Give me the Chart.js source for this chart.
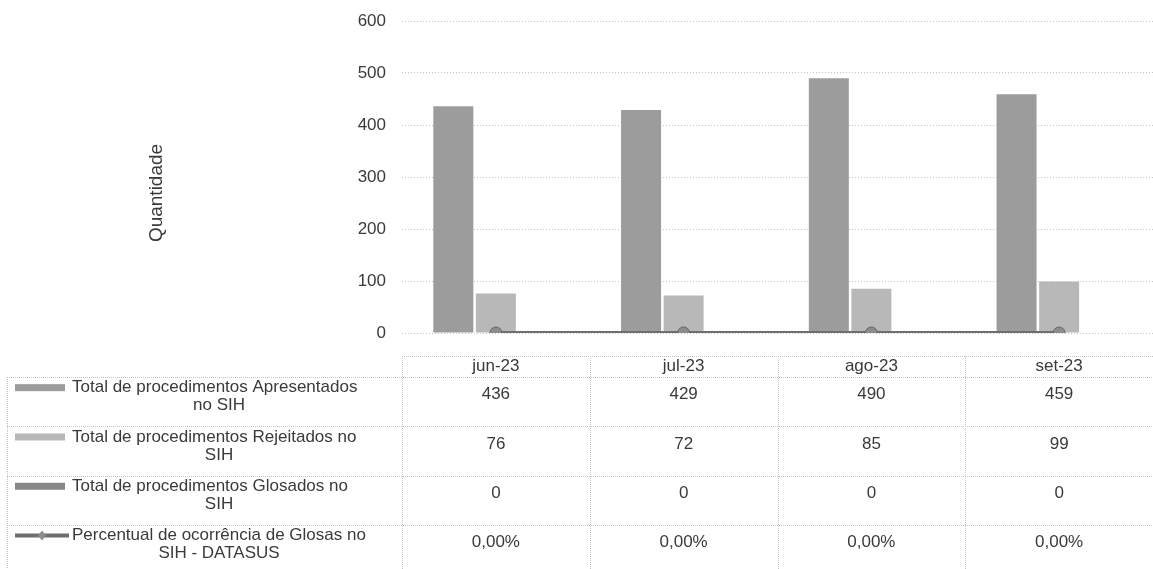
<!DOCTYPE html>
<html>
<head>
<meta charset="utf-8">
<script src="https://cdn.jsdelivr.net/npm/chart.js@4.4.0/dist/chart.umd.min.js"></script>
<style>
  html, body { margin: 0; padding: 0; background: #fff; }
  #wrap { width: 1153px; height: 569px; }
</style>
</head>
<body>
<div id="wrap"><canvas id="grafico" width="1153" height="569"></canvas></div>
<script>
const categorias = ['jun-23', 'jul-23', 'ago-23', 'set-23'];
const apresentados = [436, 429, 490, 459];
const rejeitados = [76, 72, 85, 99];
const glosados = [0, 0, 0, 0];
const percentualGlosas = [0, 0, 0, 0];

const nomesSeries = [
  ['Total de procedimentos Apresentados', 'no SIH'],
  ['Total de procedimentos Rejeitados no', 'SIH'],
  ['Total de procedimentos Glosados no', 'SIH'],
  ['Percentual de ocorrência de Glosas no', 'SIH - DATASUS']
];

const yMin = 0;
const yMax = 600;
const yPasso = 100;

const FONTE = '"Liberation Sans", Arial, sans-serif';
const COR_TEXTO = '#3a3a3a';
const COR_GRADE = '#c4c4c4';

function formatarPercentual(v) {
  return v.toFixed(2).replace('.', ',') + '%';
}

/**
 * Tabela de dados abaixo do gráfico (estilo Excel)
 */
const tabelaDados = {
  id: 'tabelaDados',
  afterDraw(chart) {
    const { ctx, chartArea } = chart;
    const x = chart.scales.x;
    const meia = (x.getPixelForValue(1) - x.getPixelForValue(0)) / 2;
    const colunas = categorias.map((c, i) => x.getPixelForValue(i));
    const esq = colunas[0] - meia;
    const dir = colunas[colunas.length - 1] + meia;
    const legEsq = 7;

    const topoCab = chartArea.bottom + 23;
    const baseCab = topoCab + 21;
    const altLinha = 49.3;
    const linhas = [apresentados, rejeitados, glosados, percentualGlosas];

    ctx.save();
    ctx.strokeStyle = COR_GRADE;
    ctx.lineWidth = 1;
    ctx.setLineDash([1, 1]);

    const linhaH = (x1, x2, y) => {
      ctx.beginPath();
      ctx.moveTo(x1, Math.round(y) + 0.5);
      ctx.lineTo(x2, Math.round(y) + 0.5);
      ctx.stroke();
    };
    const linhaV = (xx, y1, y2) => {
      ctx.beginPath();
      ctx.moveTo(Math.round(xx) + 0.5, y1);
      ctx.lineTo(Math.round(xx) + 0.5, y2);
      ctx.stroke();
    };

    // bordas horizontais
    linhaH(esq, dir, topoCab);
    for (let r = 0; r <= linhas.length; r++) {
      linhaH(legEsq, dir, baseCab + r * altLinha);
    }
    // bordas verticais
    const fundo = baseCab + linhas.length * altLinha;
    linhaV(legEsq, baseCab, fundo);
    linhaV(esq, topoCab, fundo);
    colunas.forEach(cx => linhaV(cx + meia, topoCab, fundo));
    ctx.setLineDash([]);

    // cabeçalho
    ctx.fillStyle = COR_TEXTO;
    ctx.font = '17px ' + FONTE;
    ctx.textAlign = 'center';
    ctx.textBaseline = 'middle';
    categorias.forEach((c, i) => ctx.fillText(c, colunas[i], topoCab + 10));

    // valores
    linhas.forEach((serie, r) => {
      const cy = baseCab + r * altLinha + altLinha / 2 - 7;
      serie.forEach((v, i) => {
        const txt = r === 3 ? formatarPercentual(v) : String(v);
        ctx.fillText(txt, colunas[i], cy);
      });
    });

    // legenda das séries
    const inicioTexto = 72;
    const centroTexto = 219;
    const ordem = [1, 2, 3, 0];
    nomesSeries.forEach((nome, r) => {
      const ds = chart.data.datasets[ordem[r]];
      const cy = baseCab + r * altLinha + altLinha / 2 - 5;
      const y1 = cy - 9;
      const y2 = cy + 9;
      ctx.fillStyle = COR_TEXTO;
      ctx.textAlign = 'left';
      ctx.fillText(nome[0], inicioTexto, y1);
      ctx.textAlign = 'center';
      ctx.fillText(nome[1], centroTexto, y2);
      const sx = 15;
      if (ds.type === 'line') {
        ctx.strokeStyle = ds.borderColor;
        ctx.lineWidth = 4;
        ctx.beginPath();
        ctx.moveTo(sx, y1);
        ctx.lineTo(sx + 54, y1);
        ctx.stroke();
        ctx.fillStyle = ds.pointBackgroundColor;
        ctx.beginPath();
        ctx.moveTo(sx + 27, y1 - 5);
        ctx.lineTo(sx + 31, y1);
        ctx.lineTo(sx + 27, y1 + 5);
        ctx.lineTo(sx + 23, y1);
        ctx.closePath();
        ctx.fill();
      } else {
        ctx.fillStyle = ds.backgroundColor;
        ctx.fillRect(sx, y1 - 3.5, 50, 7);
      }
    });

    // título do eixo Y
    ctx.save();
    ctx.translate(157, 193);
    ctx.rotate(-Math.PI / 2);
    ctx.fillStyle = COR_TEXTO;
    ctx.font = '19px ' + FONTE;
    ctx.textAlign = 'center';
    ctx.textBaseline = 'middle';
    ctx.fillText('Quantidade', 0, 0);
    ctx.restore();

    ctx.restore();
  }
};

const ctx = document.getElementById('grafico').getContext('2d');

new Chart(ctx, {
  data: {
    labels: categorias,
    datasets: [
      {
        type: 'line',
        label: nomesSeries[3].join(' '),
        data: percentualGlosas,
        borderColor: '#6e6e6e',
        borderWidth: 4,
        pointRadius: 6,
        pointBackgroundColor: '#8c8c8c',
        pointBorderColor: '#666666',
        pointBorderWidth: 1,
        order: 0
      },
      {
        type: 'bar',
        label: nomesSeries[0].join(' '),
        data: apresentados,
        backgroundColor: '#9c9c9c',
        categoryPercentage: 0.68,
        barPercentage: 0.94,
        order: 1
      },
      {
        type: 'bar',
        label: nomesSeries[1].join(' '),
        data: rejeitados,
        backgroundColor: '#b8b8b8',
        categoryPercentage: 0.68,
        barPercentage: 0.94,
        order: 1
      },
      {
        type: 'bar',
        label: nomesSeries[2].join(' '),
        data: glosados,
        backgroundColor: '#878787',
        categoryPercentage: 0.68,
        barPercentage: 0.94,
        order: 1
      }
    ]
  },
  options: {
    responsive: false,
    devicePixelRatio: 1,
    animation: false,
    layout: {
      autoPadding: false,
      padding: { top: 21, right: 0, bottom: 236, left: 0 }
    },
    plugins: {
      legend: { display: false },
      tooltip: { enabled: false },
      title: { display: false }
    },
    scales: {
      x: {
        display: false,
        offset: true
      },
      y: {
        min: yMin,
        max: yMax,
        afterFit(scale) {
          scale.width = 402;
          scale.paddingTop = 10;
          scale.paddingBottom = 10;
        },
        ticks: {
          stepSize: yPasso,
          color: COR_TEXTO,
          padding: 16,
          font: { size: 17, family: FONTE }
        },
        grid: {
          color: COR_GRADE,
          lineWidth: 1,
          drawTicks: false
        },
        border: { display: false, dash: [1, 2] }
      }
    }
  },
  plugins: [tabelaDados]
});
</script>
</body>
</html>
